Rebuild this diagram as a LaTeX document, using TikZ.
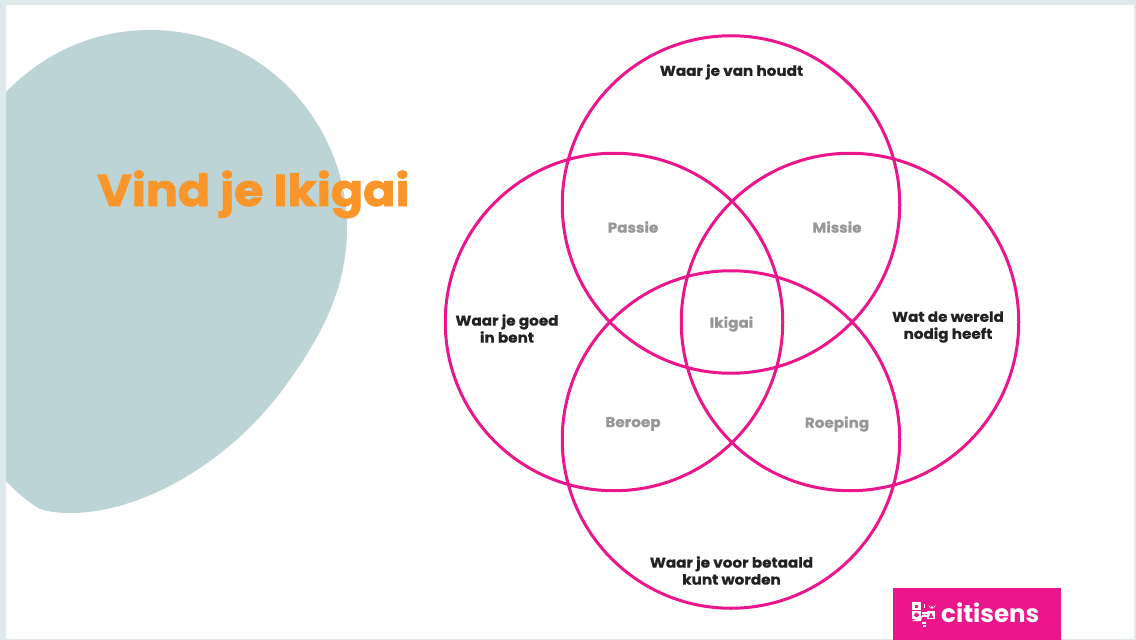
\documentclass[tikz,border=0pt]{standalone}
\usepackage{fontspec}
\setmainfont{Poppins}[BoldFeatures={FakeStretch=1.07,FakeBold=0.6}]
\newfontfamily\titlefont{Poppins Bold}[FakeStretch=1.07,FakeBold=1.6]
\newfontfamily\brandfont{Poppins Bold}
\definecolor{frameC}{HTML}{DEE9EB}
\definecolor{blobC}{HTML}{BDD4D7}
\definecolor{pinkC}{HTML}{EC168C}
\definecolor{orangeC}{HTML}{F99529}
\definecolor{darkC}{HTML}{222222}
\definecolor{greyC}{HTML}{979797}
\tikzset{
  ring/.style={circle,draw=pinkC,line width=3pt,minimum size=337.5pt,inner sep=0pt},
  lead/.style={text=darkC,font=\fontsize{14.2}{17}\selectfont\bfseries,align=center,inner sep=0pt},
  minor/.style={text=greyC,font=\fontsize{14.2}{17}\selectfont\bfseries,align=center,inner sep=0pt},
  tile/.style={fill=white,draw=none}
}
\begin{document}
\begin{tikzpicture}[x=1pt,y=-1pt]
\useasboundingbox (0,0) rectangle (1136,640);
\fill[frameC] (0,0) rectangle (1136,640);
\fill[white] (6,5) rectangle (1134,639);
\fill[blobC] (6,92) .. controls (45,52) and (95,30) .. (150,30)
  .. controls (265,30) and (347,125) .. (347,228)
  .. controls (347,290) and (320,340) .. (280,393)
  .. controls (225,465) and (140,513) .. (70,513)
  .. controls (58,513) and (50,512) .. (40,509)
  .. controls (28,502) and (15,491) .. (6,481) -- cycle;
\node[text=orangeC,font=\titlefont\fontsize{44.4}{50}\selectfont,anchor=base west,inner sep=0pt] (title) at (97,206) {Vind je Ikigai};
\node[ring] (top) at (731,204.5) {};
\node[ring] (left) at (614,322) {};
\node[ring] (right) at (850,322) {};
\node[ring] (bottom) at (731,439.5) {};
\node[lead] (love) at (731.5,72) {Waar je van houdt};
\node[lead] (good) at (507,328.5) {Waar je goed\\in bent};
\node[lead] (world) at (948,327) {Wat de wereld\\nodig heeft};
\node[lead] (paid) at (731.5,570.5) {Waar je voor betaald\\kunt worden};
\node[minor] (passie) at (633,227) {Passie};
\node[minor] (missie) at (837,227) {Missie};
\node[minor] (ikigai) at (731.5,324) {Ikigai};
\node[minor] (beroep) at (633,424) {Beroep};
\node[minor] (roeping) at (837,424) {Roeping};
\fill[pinkC] (892.5,588) rectangle (1060.5,640);
\node[text=white,font=\brandfont\fontsize{24.5}{28}\selectfont,anchor=base west,inner sep=0pt] (brand) at (941,622) {citisens};
% logo mark
\foreach \x/\y/\w/\h in {912/602/9/8,912/611/9/8,922/612/7/1.6,922/615/7/1.6,927/611/8/8,924/604/1.4/4,922/622/4/1.5,923/625/3/1.5}
  \fill[tile] (\x,\y) rectangle ++(\w,\h);
\fill[pinkC] (915,604.5) rectangle ++(3,3);
\fill[pinkC] (916.5,612.5) -- (919.5,615) -- (916.5,617.5) -- (913.5,615) -- cycle;
\fill[pinkC] (931,612.5) -- (933.5,618) -- (928.5,618) -- cycle;
\fill[tile] (932,609) -- (928.5,605) arc (200:20:1.9) arc (160:-20:1.9) -- cycle;
\fill[tile] (912,621) -- (921,621) arc (0:90:-9) -- cycle;
\end{tikzpicture}
\end{document}
